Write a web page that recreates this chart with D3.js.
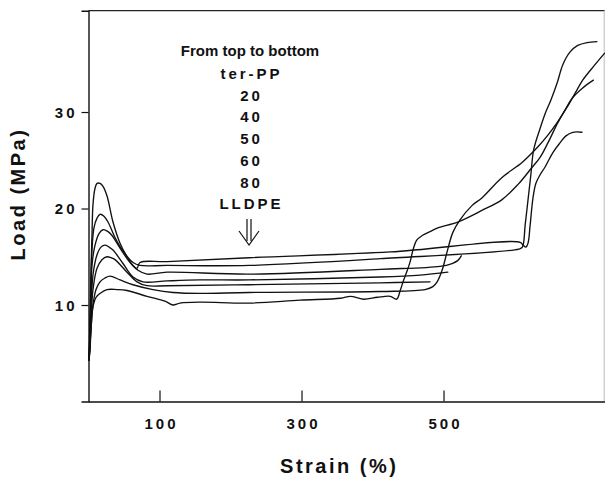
<!DOCTYPE html>
<html><head><meta charset="utf-8">
<script src="https://cdn.jsdelivr.net/npm/d3@7"></script>
<style>
body{margin:0;background:#fff}
svg{display:block}
text{font-family:"Liberation Sans",Arial,Helvetica,sans-serif;font-weight:bold;fill:#111}
</style>
</head><body>
<svg id="chart" width="605" height="477"></svg>
<script>
// ---- data: [strain %, load MPa] ----
const terPP=[[0.7,4.3],[2.1,8.4],[3.5,13.6],[4.9,17.2],[6.3,20.4],[9.2,22.1],[12,22.6],[16.2,22.6],[20.4,22.3],[26.1,21.3],[34.5,18.6],[44.4,16.4],[54.2,15.0],[62.7,14.1],[68.3,13.8],[72.5,14.4],[110.6,14.5],[226,14.9],[425,15.5],[608,16.5],[612,16.2],[616,16.0],[619,16.4],[622,18.3],[626,21.1],[630,22.6],[636,23.5],[643,24.3],[654,25.8],[664,26.8],[672,27.5],[682,27.9],[695,27.9]];
const pp20=[[0.7,4.3],[2.1,7.4],[3.5,11.6],[4.9,15.7],[7.7,18.0],[12,19.0],[16.2,19.4],[21.8,19.2],[27.5,18.6],[37.3,17.0],[48.6,15.6],[62.7,14.4],[72.5,14.1],[110.6,14.1],[226,14.1],[411,14.8],[606,15.8],[611,16.0],[615,18.3],[619,20.9],[623,23.5],[627,26.1],[636,28.3],[644,30.0],[651,31.2],[660,33.0],[668,34.9],[678,36.2],[689,36.9],[702,37.2],[716,37.3]];
const pp40=[[0.7,4.3],[2.1,6.9],[3.5,10.5],[4.9,14.1],[9.2,16.2],[14.8,17.4],[20.4,17.8],[27.5,17.6],[33.1,17.2],[44.4,15.9],[58.5,14.4],[69.7,13.6],[82.4,13.2],[110.6,13.4],[226,13.2],[411,13.7],[495,14.0],[512,14.3],[520,14.6],[525,15.1]];
const pp50=[[0.7,4.3],[2.1,6.3],[3.5,9.5],[6.3,13.1],[12,15.2],[17.6,16.0],[23.2,16.2],[28.9,16.0],[34.5,15.7],[48.6,14.3],[62.7,12.9],[76.8,12.4],[110.6,12.5],[157,12.6],[226,12.6],[411,12.9],[467,13.1],[506,13.4]];
const pp60=[[0.7,4.3],[2.1,5.8],[3.5,8.4],[6.3,11.6],[12,13.8],[19,14.7],[26.1,15.0],[31.7,14.9],[37.3,14.7],[54.2,13.4],[68.3,12.4],[82.4,12.0],[110.6,12.0],[226,12.1],[411,12.3],[481,12.4]];
const pp80=[[0.7,4.3],[2.1,5.3],[3.5,7.4],[6.3,10.0],[10.6,11.6],[16.2,12.4],[23.2,12.8],[30.3,13.0],[44.4,12.6],[62.7,12.1],[90.8,11.6],[119,11.3],[157,11.2],[226,11.3],[411,11.4],[474,11.6],[485,11.9],[491,12.4],[498,13.6],[505,15.5],[513,17.5],[523,18.8],[540,20.3],[554,21.1],[582,23.2],[611,24.8],[633,26.4],[647,27.6],[660,28.9],[674,30.5],[688,32.3],[696,33.3],[711,34.7],[727,36.1]];
const lldpe=[[0.7,4.3],[2.1,5.8],[3.5,7.4],[6.3,9.8],[10.6,10.8],[16.2,11.2],[26.1,11.6],[40.1,11.6],[54.2,11.5],[82.4,10.9],[107.7,10.4],[119,10.0],[128.9,10.2],[157,10.3],[226,10.2],[298,10.5],[355,10.7],[369,10.9],[387,10.6],[407,10.8],[425,10.9],[434,10.6],[439,11.5],[443,12.4],[449,13.6],[453,14.5],[457,15.7],[462,16.7],[470,17.2],[481,17.6],[492,18.0],[520,18.6],[554,19.8],[582,20.9],[605,22.5],[624,24.2],[636,25.3],[647,26.8],[661,28.9],[671,30.2],[682,31.5],[696,32.5],[711,33.3]];

const seriesNames=["ter-PP","20","40","50","60","80","LLDPE"];
const seriesData=[terPP,pp20,pp40,pp50,pp60,pp80,lldpe];
const xMajorTicks=[100,300,500];
const xMinorTicks=[200,400,600];
const yMajorTicks=[10,20,30];
const yMinorTicks=[5,15,25,35];
const legendTitle="From top to bottom";
const xTitle="Strain (%)";
const yTitle="Load (MPa)";

// ---- layout ----
const L=88.5,R=604.7,T=10.7,B=401.5;
const svg=d3.select("#chart");
const x=d3.scaleLinear().domain([0,727]).range([L,R]);
const y=d3.scaleLinear().domain([0,40.5]).range([B,T]);

// frame
svg.append("line").attr("x1",L).attr("x2",R).attr("y1",T).attr("y2",T).attr("stroke","#222").attr("stroke-width",1.2);
svg.append("line").attr("x1",R-0.5).attr("x2",R-0.5).attr("y1",T).attr("y2",B).attr("stroke","#bbb").attr("stroke-width",1);

const tickFont=s=>s.attr("font-size",15).attr("letter-spacing","3px")
  .style("font-family",'"Liberation Sans",Arial,sans-serif').style("font-weight","bold").attr("fill","#111");

// y axis
const gy=svg.append("g").attr("transform",`translate(${L},0)`);
gy.call(d3.axisLeft(y).tickValues(yMinorTicks).tickSize(4).tickFormat(""));
gy.call(d3.axisLeft(y).tickValues(yMajorTicks).tickSize(7).tickPadding(5).tickFormat(d3.format("d")));
gy.selectAll(".domain").attr("stroke","#111").attr("stroke-width",1.4);
gy.selectAll(".tick line").attr("stroke","#111").attr("stroke-width",1.2);
gy.selectAll(".tick text").call(tickFont).attr("dx","1px").attr("dy","0.36em");

// x axis (ticks point inward)
const gx=svg.append("g").attr("transform",`translate(0,${B})`);
gx.call(d3.axisBottom(x).tickValues(xMinorTicks).tickSizeInner(-6).tickSizeOuter(0).tickFormat(""));
gx.call(d3.axisBottom(x).tickValues(xMajorTicks).tickSizeInner(-11).tickSizeOuter(0).tickPadding(17).tickFormat(d3.format("d")));
gx.selectAll(".domain").attr("stroke","#111").attr("stroke-width",1.4);
gx.selectAll(".tick line").attr("stroke","#111").attr("stroke-width",1.2);
gx.selectAll(".tick text").call(tickFont).attr("dx","1.5px");

// curves
const line=d3.line().x(d=>x(d[0])).y(d=>y(d[1])).curve(d3.curveCatmullRom.alpha(0.5));
svg.append("g").selectAll("path").data(seriesData).join("path")
  .attr("d",line).attr("fill","none").attr("stroke","#111").attr("stroke-width",1.35)
  .attr("stroke-linejoin","round").attr("stroke-linecap","round");

// legend text block
const cx=250;
svg.append("text").attr("x",cx).attr("y",56).attr("text-anchor","middle").attr("font-size",15).text(legendTitle);
svg.append("g").selectAll("text").data(seriesNames).join("text")
  .attr("x",cx+1.5).attr("y",(d,i)=>79+i*21.7).attr("text-anchor","middle")
  .attr("font-size",15).attr("letter-spacing","3px").text(d=>d);
// double arrow
const ag=svg.append("g").attr("stroke","#111").attr("fill","none").attr("stroke-width",1.2);
ag.append("path").attr("d",`M${cx-3},219 V241 M${cx+1},219 V241`);
ag.append("path").attr("d",`M${cx-11},231 L${cx-1},245 L${cx+9},231`);

// axis titles
svg.append("text").attr("x",338+1.25).attr("y",473).attr("text-anchor","middle")
  .attr("font-size",20).attr("letter-spacing","2.5px").text(xTitle);
svg.append("text").attr("transform","translate(25,194) rotate(-90)").attr("text-anchor","middle")
  .attr("font-size",20).attr("letter-spacing","2.5px").text(yTitle);
</script>
</body></html>
